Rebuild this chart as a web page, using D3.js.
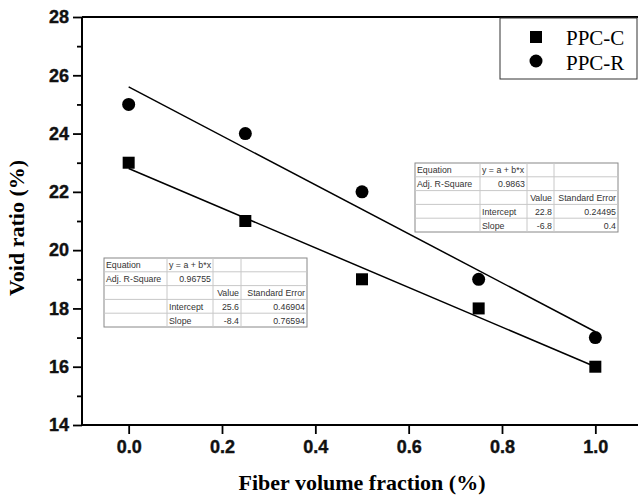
<!DOCTYPE html>
<html>
<head>
<meta charset="utf-8">
<script src="https://cdn.jsdelivr.net/npm/d3@7"></script>
<style>
  html, body { margin: 0; padding: 0; background: #fff; }
</style>
</head>
<body>
<div id="chart"></div>
<script>
// Data
const fractions = [0, 0.25, 0.5, 0.75, 1.0];
const ppcC = [23, 21, 19, 18, 16];
const ppcR = [25, 24, 22, 19, 17];
// Linear fits (intercept, slope) as given in the tables
const fitC = [22.8, -6.8];
const fitR = [25.6, -8.4];
const xTicks = [0, 0.2, 0.4, 0.6, 0.8, 1.0];
const yTicks = [14, 16, 18, 20, 22, 24, 26, 28];
const tableC = [["Equation", "y = a + b*x", "", ""], ["Adj. R-Square", "0.9863", "", ""], ["", "", "Value", "Standard Error"], ["", "Intercept", "22.8", "0.24495"], ["", "Slope", "-6.8", "0.4"]];
const tableR = [["Equation", "y = a + b*x", "", ""], ["Adj. R-Square", "0.96755", "", ""], ["", "", "Value", "Standard Error"], ["", "Intercept", "25.6", "0.46904"], ["", "Slope", "-8.4", "0.76594"]];

const width = 638, height = 497;
const svg = d3.select("#chart").append("svg")
  .attr("width", width)
  .attr("height", height)
  .style("font-family", "Liberation Sans, Arial, sans-serif");

const x = d3.scaleLinear().domain([-0.1, 1.1]).range([82, 642]);
const y = d3.scaleLinear().domain([14, 28]).range([425, 17]);

// Axes
const yAxis = d3.axisLeft(y).tickValues(yTicks).tickFormat(d3.format("d")).tickSize(9).tickPadding(4);
const yMinor = d3.axisLeft(y).tickValues(d3.range(15, 28, 2)).tickFormat("").tickSize(5);
const xAxis = d3.axisBottom(x).tickValues(xTicks).tickFormat(d3.format(".1f")).tickSize(9).tickPadding(6);

const gy = svg.append("g").attr("transform", "translate(82,0)").call(yAxis);
svg.append("g").attr("transform", "translate(82,0)").call(yMinor).select(".domain").remove();
const gx = svg.append("g").attr("transform", "translate(0,425)").call(xAxis);

[gy, gx].forEach(g => {
  g.select(".domain").remove();
  g.selectAll("text")
    .style("font-size", "18px").style("font-weight", "bold")
    .attr("fill", "#111").attr("stroke", "#111").attr("stroke-width", 0.4);
});
svg.selectAll(".tick line").attr("stroke-width", 1.8);

// Frame
svg.append("line").attr("x1", 82).attr("x2", 82).attr("y1", 17).attr("y2", 425).attr("stroke", "#000").attr("stroke-width", 2);
svg.append("line").attr("x1", 82).attr("x2", 642).attr("y1", 425).attr("y2", 425).attr("stroke", "#000").attr("stroke-width", 2);
svg.append("line").attr("x1", 82).attr("x2", 642).attr("y1", 17).attr("y2", 17).attr("stroke", "#000").attr("stroke-width", 2);

// Axis titles
svg.append("text")
  .attr("x", 362).attr("y", 490)
  .attr("text-anchor", "middle")
  .style("font-family", "Liberation Serif, Times New Roman, serif")
  .style("font-size", "22px").style("font-weight", "bold")
  .text("Fiber volume fraction (%)");
svg.append("text")
  .attr("transform", "translate(24,228) rotate(-90)")
  .attr("text-anchor", "middle")
  .style("font-family", "Liberation Serif, Times New Roman, serif")
  .style("font-size", "22px").style("font-weight", "bold")
  .text("Void ratio (%)");

// Fit lines
[fitC, fitR].forEach(f => {
  svg.append("line")
    .attr("x1", x(0)).attr("y1", y(f[0]))
    .attr("x2", x(1)).attr("y2", y(f[0] + f[1]))
    .attr("stroke", "#000").attr("stroke-width", 1.5);
});

// Markers
const sq = 12;
svg.append("g").selectAll("rect")
  .data(fractions)
  .enter()
  .append("rect")
  .attr("x", d => x(d) - sq / 2)
  .attr("y", (d, i) => y(ppcC[i]) - sq / 2)
  .attr("width", sq).attr("height", sq)
  .attr("fill", "#000");
svg.append("g").selectAll("circle")
  .data(fractions)
  .enter()
  .append("circle")
  .attr("cx", d => x(d))
  .attr("cy", (d, i) => y(ppcR[i]))
  .attr("r", 6.5)
  .attr("fill", "#000");

// Legend
const legend = svg.append("g");
legend.append("rect").attr("x", 500).attr("y", 18).attr("width", 137).attr("height", 61)
  .attr("fill", "#fff").attr("stroke", "#333").attr("stroke-width", 1);
legend.append("rect").attr("x", 530).attr("y", 31).attr("width", 12).attr("height", 12).attr("fill", "#000");
legend.append("circle").attr("cx", 536).attr("cy", 61).attr("r", 6.5).attr("fill", "#000");
legend.selectAll("text")
  .data(["PPC-C", "PPC-R"])
  .enter()
  .append("text")
  .attr("x", 566)
  .attr("y", (d, i) => 45 + i * 25)
  .style("font-family", "Liberation Serif, Times New Roman, serif")
  .style("font-size", "21px")
  .text(d => d);

// Fit tables
function drawTable(rows, left, top, colWidths, rowHeight) {
  const g = svg.append("g");
  const totalW = d3.sum(colWidths);
  const totalH = rows.length * rowHeight;
  g.append("rect").attr("x", left).attr("y", top).attr("width", totalW).attr("height", totalH)
    .attr("fill", "#fff").attr("stroke", "#888").attr("stroke-width", 1);
  const colX = [left];
  colWidths.forEach((w, i) => colX.push(colX[i] + w));
  for (let i = 1; i < rows.length; i++) {
    g.append("line").attr("x1", left).attr("x2", left + totalW)
      .attr("y1", top + i * rowHeight).attr("y2", top + i * rowHeight)
      .attr("stroke", "#c8c8c8");
  }
  for (let j = 1; j < colWidths.length; j++) {
    g.append("line").attr("x1", colX[j]).attr("x2", colX[j])
      .attr("y1", top).attr("y2", top + totalH)
      .attr("stroke", "#c8c8c8");
  }
  rows.forEach((row, i) => {
    row.forEach((cell, j) => {
      if (!cell) return;
      // numbers right aligned, labels left aligned
      const isNum = !isNaN(+cell) || (i === 2);
      g.append("text")
        .attr("x", isNum ? colX[j + 1] - 2 : colX[j] + 2)
        .attr("y", top + i * rowHeight + rowHeight - 3.5)
        .attr("text-anchor", isNum ? "end" : "start")
        .style("font-size", "8.8px")
        .attr("fill", "#333")
        .text(cell);
    });
  });
}

drawTable(tableC, 415, 163, [65, 47, 27, 64], 13.8);
drawTable(tableR, 104, 258, [63, 46, 28, 66], 13.8);
</script>
</body>
</html>
